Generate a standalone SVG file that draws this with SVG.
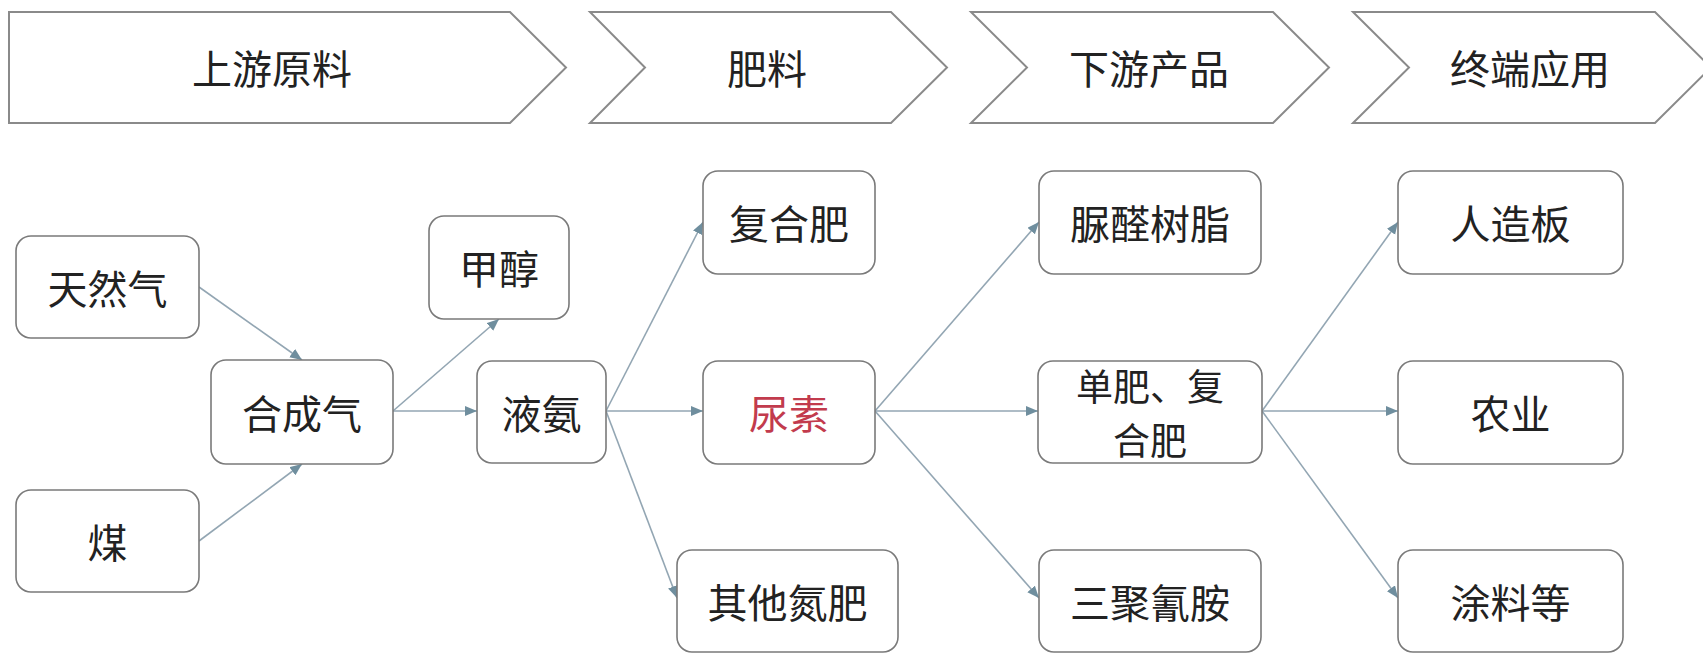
<svg xmlns="http://www.w3.org/2000/svg" width="1703" height="656" viewBox="0 0 1703 656">
<defs>
<style>
.chev{fill:#ffffff;stroke:#8a8a8a;stroke-width:2;stroke-linejoin:miter}
.box{fill:#ffffff;stroke:#7a7a7a;stroke-width:1.6}
.t{font-family:"Noto Sans CJK SC","Noto Sans CJK TC",sans-serif;font-size:40px;fill:#222222;text-anchor:middle;dominant-baseline:central}
.sm{font-size:37px}
.red{fill:#c23b4d}
.conn line{stroke:#93a6b3;stroke-width:1.6}
</style>
<marker id="arr" markerUnits="userSpaceOnUse" markerWidth="13" markerHeight="11" refX="12" refY="5" orient="auto">
<path d="M0,0 L12,5 L0,10 z" fill="#6f8e9e"/>
</marker>
</defs>
<rect width="1703" height="656" fill="#ffffff"/>

<g id="stage1">
<polygon class="chev" points="9,12 510,12 566,67.5 510,123 9,123"/>
<text class="t" x="272" y="67">上游原料</text>
</g>
<g id="stage2">
<polygon class="chev" points="590,12 891,12 947,67.5 891,123 590,123 645,67.5"/>
<text class="t" x="767" y="67">肥料</text>
</g>
<g id="stage3">
<polygon class="chev" points="971,12 1273,12 1329,67.5 1273,123 971,123 1027,67.5"/>
<text class="t" x="1149" y="67">下游产品</text>
</g>
<g id="stage4">
<polygon class="chev" points="1353,12 1655,12 1711,67.5 1655,123 1353,123 1409,67.5"/>
<text class="t" x="1530" y="67">终端应用</text>
</g>

<g id="connectors" class="conn">
<line x1="199" y1="287" x2="302" y2="360" marker-end="url(#arr)"/>
<line x1="199" y1="541" x2="302" y2="464" marker-end="url(#arr)"/>
<line x1="393" y1="411" x2="499" y2="319" marker-end="url(#arr)"/>
<line x1="393" y1="411" x2="477" y2="411" marker-end="url(#arr)"/>
<line x1="606" y1="411" x2="703" y2="222" marker-end="url(#arr)"/>
<line x1="606" y1="411" x2="703" y2="411" marker-end="url(#arr)"/>
<line x1="606" y1="411" x2="677" y2="598" marker-end="url(#arr)"/>
<line x1="875" y1="411" x2="1039" y2="222" marker-end="url(#arr)"/>
<line x1="875" y1="411" x2="1038" y2="411" marker-end="url(#arr)"/>
<line x1="875" y1="411" x2="1039" y2="598" marker-end="url(#arr)"/>
<line x1="1262" y1="411" x2="1398" y2="222" marker-end="url(#arr)"/>
<line x1="1262" y1="411" x2="1398" y2="411" marker-end="url(#arr)"/>
<line x1="1262" y1="411" x2="1398" y2="598" marker-end="url(#arr)"/>
</g>

<g id="n-tianranqi">
<rect class="box" x="16" y="236" width="183" height="102" rx="15"/>
<text class="t" x="107.5" y="287">天然气</text>
</g>
<g id="n-mei">
<rect class="box" x="16" y="490" width="183" height="102" rx="15"/>
<text class="t" x="107.5" y="541">煤</text>
</g>
<g id="n-hechengqi">
<rect class="box" x="211" y="360" width="182" height="104" rx="15"/>
<text class="t" x="302" y="412">合成气</text>
</g>
<g id="n-jiachun">
<rect class="box" x="429" y="216" width="140" height="103" rx="15"/>
<text class="t" x="499" y="267">甲醇</text>
</g>
<g id="n-yean">
<rect class="box" x="477" y="361" width="129" height="102" rx="15"/>
<text class="t" x="541.5" y="412">液氨</text>
</g>
<g id="n-fuhefei">
<rect class="box" x="703" y="171" width="172" height="103" rx="15"/>
<text class="t" x="789" y="222">复合肥</text>
</g>
<g id="n-niaosu">
<rect class="box" x="703" y="361" width="172" height="103" rx="15"/>
<text class="t red" x="789" y="412">尿素</text>
</g>
<g id="n-qitadanfei">
<rect class="box" x="677" y="550" width="221" height="102" rx="15"/>
<text class="t" x="787.5" y="601">其他氮肥</text>
</g>
<g id="n-niaoquan">
<rect class="box" x="1039" y="171" width="222" height="103" rx="15"/>
<text class="t" x="1150" y="222">脲醛树脂</text>
</g>
<g id="n-danfei">
<rect class="box" x="1038" y="361" width="224" height="102" rx="15"/>
<text class="t sm" x="1150" y="385"><tspan x="1150" y="385">单肥、复</tspan><tspan x="1150" y="439">合肥</tspan></text>
</g>
<g id="n-sanju">
<rect class="box" x="1039" y="550" width="222" height="102" rx="15"/>
<text class="t" x="1150" y="601">三聚氰胺</text>
</g>
<g id="n-renzaoban">
<rect class="box" x="1398" y="171" width="225" height="103" rx="15"/>
<text class="t" x="1510.5" y="222">人造板</text>
</g>
<g id="n-nongye">
<rect class="box" x="1398" y="361" width="225" height="103" rx="15"/>
<text class="t" x="1510.5" y="412">农业</text>
</g>
<g id="n-tuliao">
<rect class="box" x="1398" y="550" width="225" height="102" rx="15"/>
<text class="t" x="1510.5" y="601">涂料等</text>
</g>
</svg>
